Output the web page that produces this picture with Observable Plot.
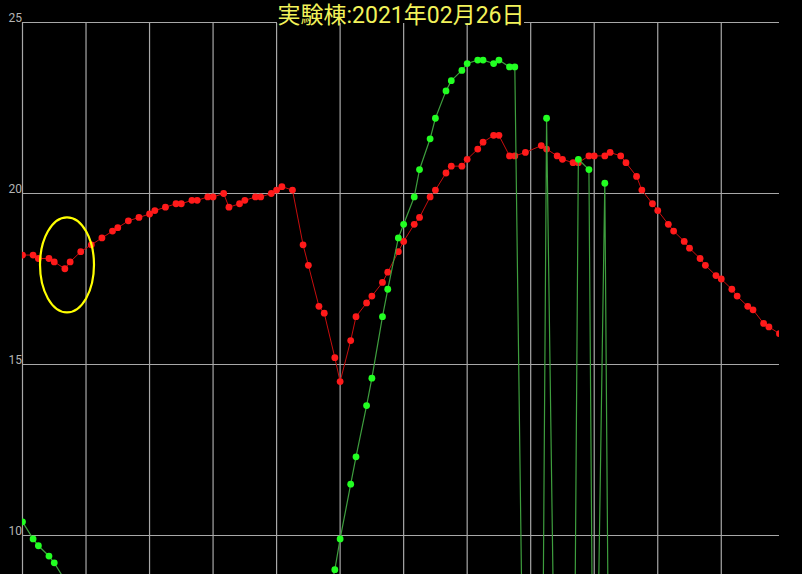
<!DOCTYPE html>
<html>
<head>
<meta charset="utf-8">
<script src="https://cdn.jsdelivr.net/npm/d3@7"></script>
<script src="https://cdn.jsdelivr.net/npm/@observablehq/plot@0.6"></script>
<style>
html, body { margin: 0; padding: 0; background: #000; }
#wrap { position: relative; width: 802px; height: 574px; overflow: hidden; background: #000; }
#titlebg { position: absolute; top: 0; left: 277px; width: 247px; height: 23px; background: #000; }
#title {
  position: absolute; top: 2px; left: 0; width: 802px; text-align: center;
  line-height: 27px; white-space: nowrap;
  font-family: Roboto, "Noto Sans CJK JP", sans-serif; font-size: 23px; color: #f2f25a;
}
</style>
</head>
<body>
<div id="wrap">
  <div id="chart"></div>
  <div id="titlebg"></div>
  <div id="title"></div>
</div>
<script>
const titleText = "実験棟:2021年02月26日";

const times = [
  "00:00","00:20","00:30","00:50","01:00","01:20","01:30","01:50","02:10","02:30",
  "02:50","03:00","03:20","03:40","04:00","04:10","04:30","04:50","05:00","05:20",
  "05:30","05:50","06:00","06:20","06:30","06:50","07:00","07:20","07:30","07:50",
  "08:00","08:10","08:30","08:50","09:00","09:20","09:30","09:50","10:00","10:20",
  "10:30","10:50","11:00","11:20","11:30","11:50","12:00","12:20","12:30","12:50",
  "13:00","13:20","13:30","13:50","14:00","14:20","14:30","14:50","15:00","15:20",
  "15:30","15:50","16:20","16:30","16:50","17:00","17:20","17:30","17:50","18:00",
  "18:20","18:30","18:50","19:00","19:20","19:30","19:50","20:00","20:20","20:30",
  "20:50","21:00","21:20","21:30","21:50","22:00","22:20","22:30","22:50","23:00",
  "23:20","23:30","23:50"
];

const redSeries = [
  18.2,18.2,18.1,18.1,18.0,17.8,18.0,18.3,18.5,18.7,
  18.9,19.0,19.2,19.3,19.4,19.5,19.6,19.7,19.7,19.8,
  19.8,19.9,19.9,20.0,19.6,19.7,19.8,19.9,19.9,20.0,
  20.1,20.2,20.1,18.5,17.9,16.7,16.5,15.2,14.5,15.7,
  16.4,16.8,17.0,17.4,17.7,18.3,18.6,19.1,19.3,19.9,
  20.1,20.6,20.8,20.8,21.0,21.3,21.5,21.7,21.7,21.1,
  21.1,21.2,21.4,21.3,21.1,21.0,20.9,20.9,21.1,21.1,
  21.1,21.2,21.1,20.9,20.5,20.1,19.7,19.5,19.1,18.9,
  18.6,18.4,18.1,17.9,17.6,17.5,17.2,17.0,16.7,16.6,
  16.2,16.1,15.9
];

const greenSeries = [
  10.4,9.9,9.7,9.4,9.2,8.7,8.6,8.3,8.0,7.7,
  7.5,7.4,7.2,7.0,6.8,6.7,6.6,6.4,6.3,6.2,
  6.1,6.0,5.9,5.8,5.8,5.7,5.6,5.5,5.5,5.4,
  5.4,5.4,5.5,5.8,6.1,6.9,7.6,9.0,9.9,11.5,
  12.3,13.8,14.6,16.4,17.2,18.7,19.1,19.9,20.7,21.6,
  22.2,23.0,23.3,23.6,23.8,23.9,23.9,23.8,23.9,23.7,
  23.7,0,0,22.2,0,0,0,21.0,20.7,0,
  20.3,0,0,0,0,0,0,0,0,0,
  0,0,0,0,0,0,0,0,0,0,
  0,0,0
];

const yTicks = [10, 15, 20, 25];
const xGridTimes = ["00:00","02:00","04:00","06:00","08:00","10:00","12:00","14:00","16:00","18:00","20:00","22:00"];
const xEnd = "23:50";

// annotation ellipse (centre time, centre value, half width in minutes, half height in degrees)
const markTime = "01:25", markValue = 17.9, markHalfMinutes = 51, markHalfValue = 1.39;

const toMin = s => { const [h, m] = s.split(":").map(Number); return h * 60 + m; };
const rows = times.map((t, i) => ({t: toMin(t), red: redSeries[i], green: greenSeries[i]}));

const chart = Plot.plot({
  width: 802, height: 574,
  marginLeft: 22, marginRight: 23, marginTop: 22, marginBottom: 0,
  style: {background: "#000", fontFamily: "Roboto, sans-serif", fontSize: "12px", overflow: "hidden"},
  x: {domain: [0, toMin(xEnd)], axis: null},
  y: {domain: [8.86, 25], axis: null, label: null},
  marks: [
    Plot.ruleX(xGridTimes.map(toMin), {stroke: "#a8a8a8", strokeWidth: 1.2}),
    Plot.ruleY(yTicks, {stroke: "#a8a8a8", strokeWidth: 1.2}),
    Plot.axisY(yTicks, {anchor: "left", tickSize: 0, tickPadding: 0.5, dy: -4.5, color: "#b4b4b4", fontSize: 12, label: null}),
    Plot.line(rows, {x: "t", y: "red", stroke: "#c80e0e", strokeWidth: 1, clip: true}),
    Plot.dot(rows, {x: "t", y: "red", r: 3.4, fill: "#ff1a1a", clip: true}),
    Plot.line(rows, {x: "t", y: "green", stroke: "#3e9e3e", strokeWidth: 1.2, clip: true}),
    Plot.dot(rows, {x: "t", y: "green", r: 3.4, fill: "#22ff22", clip: true})
  ]
});

const xs = chart.scale("x"), ys = chart.scale("y");
const cx = xs.apply(toMin(markTime)), cy = ys.apply(markValue);
const rx = xs.apply(toMin(markTime) + markHalfMinutes) - cx;
const ry = ys.apply(markValue - markHalfValue) - cy;
d3.select(chart).append("ellipse")
  .attr("cx", cx).attr("cy", cy).attr("rx", rx).attr("ry", ry)
  .attr("fill", "none").attr("stroke", "#ffff00").attr("stroke-width", 2.2);

document.getElementById("chart").appendChild(chart);
document.getElementById("title").textContent = titleText;
</script>
</body>
</html>
